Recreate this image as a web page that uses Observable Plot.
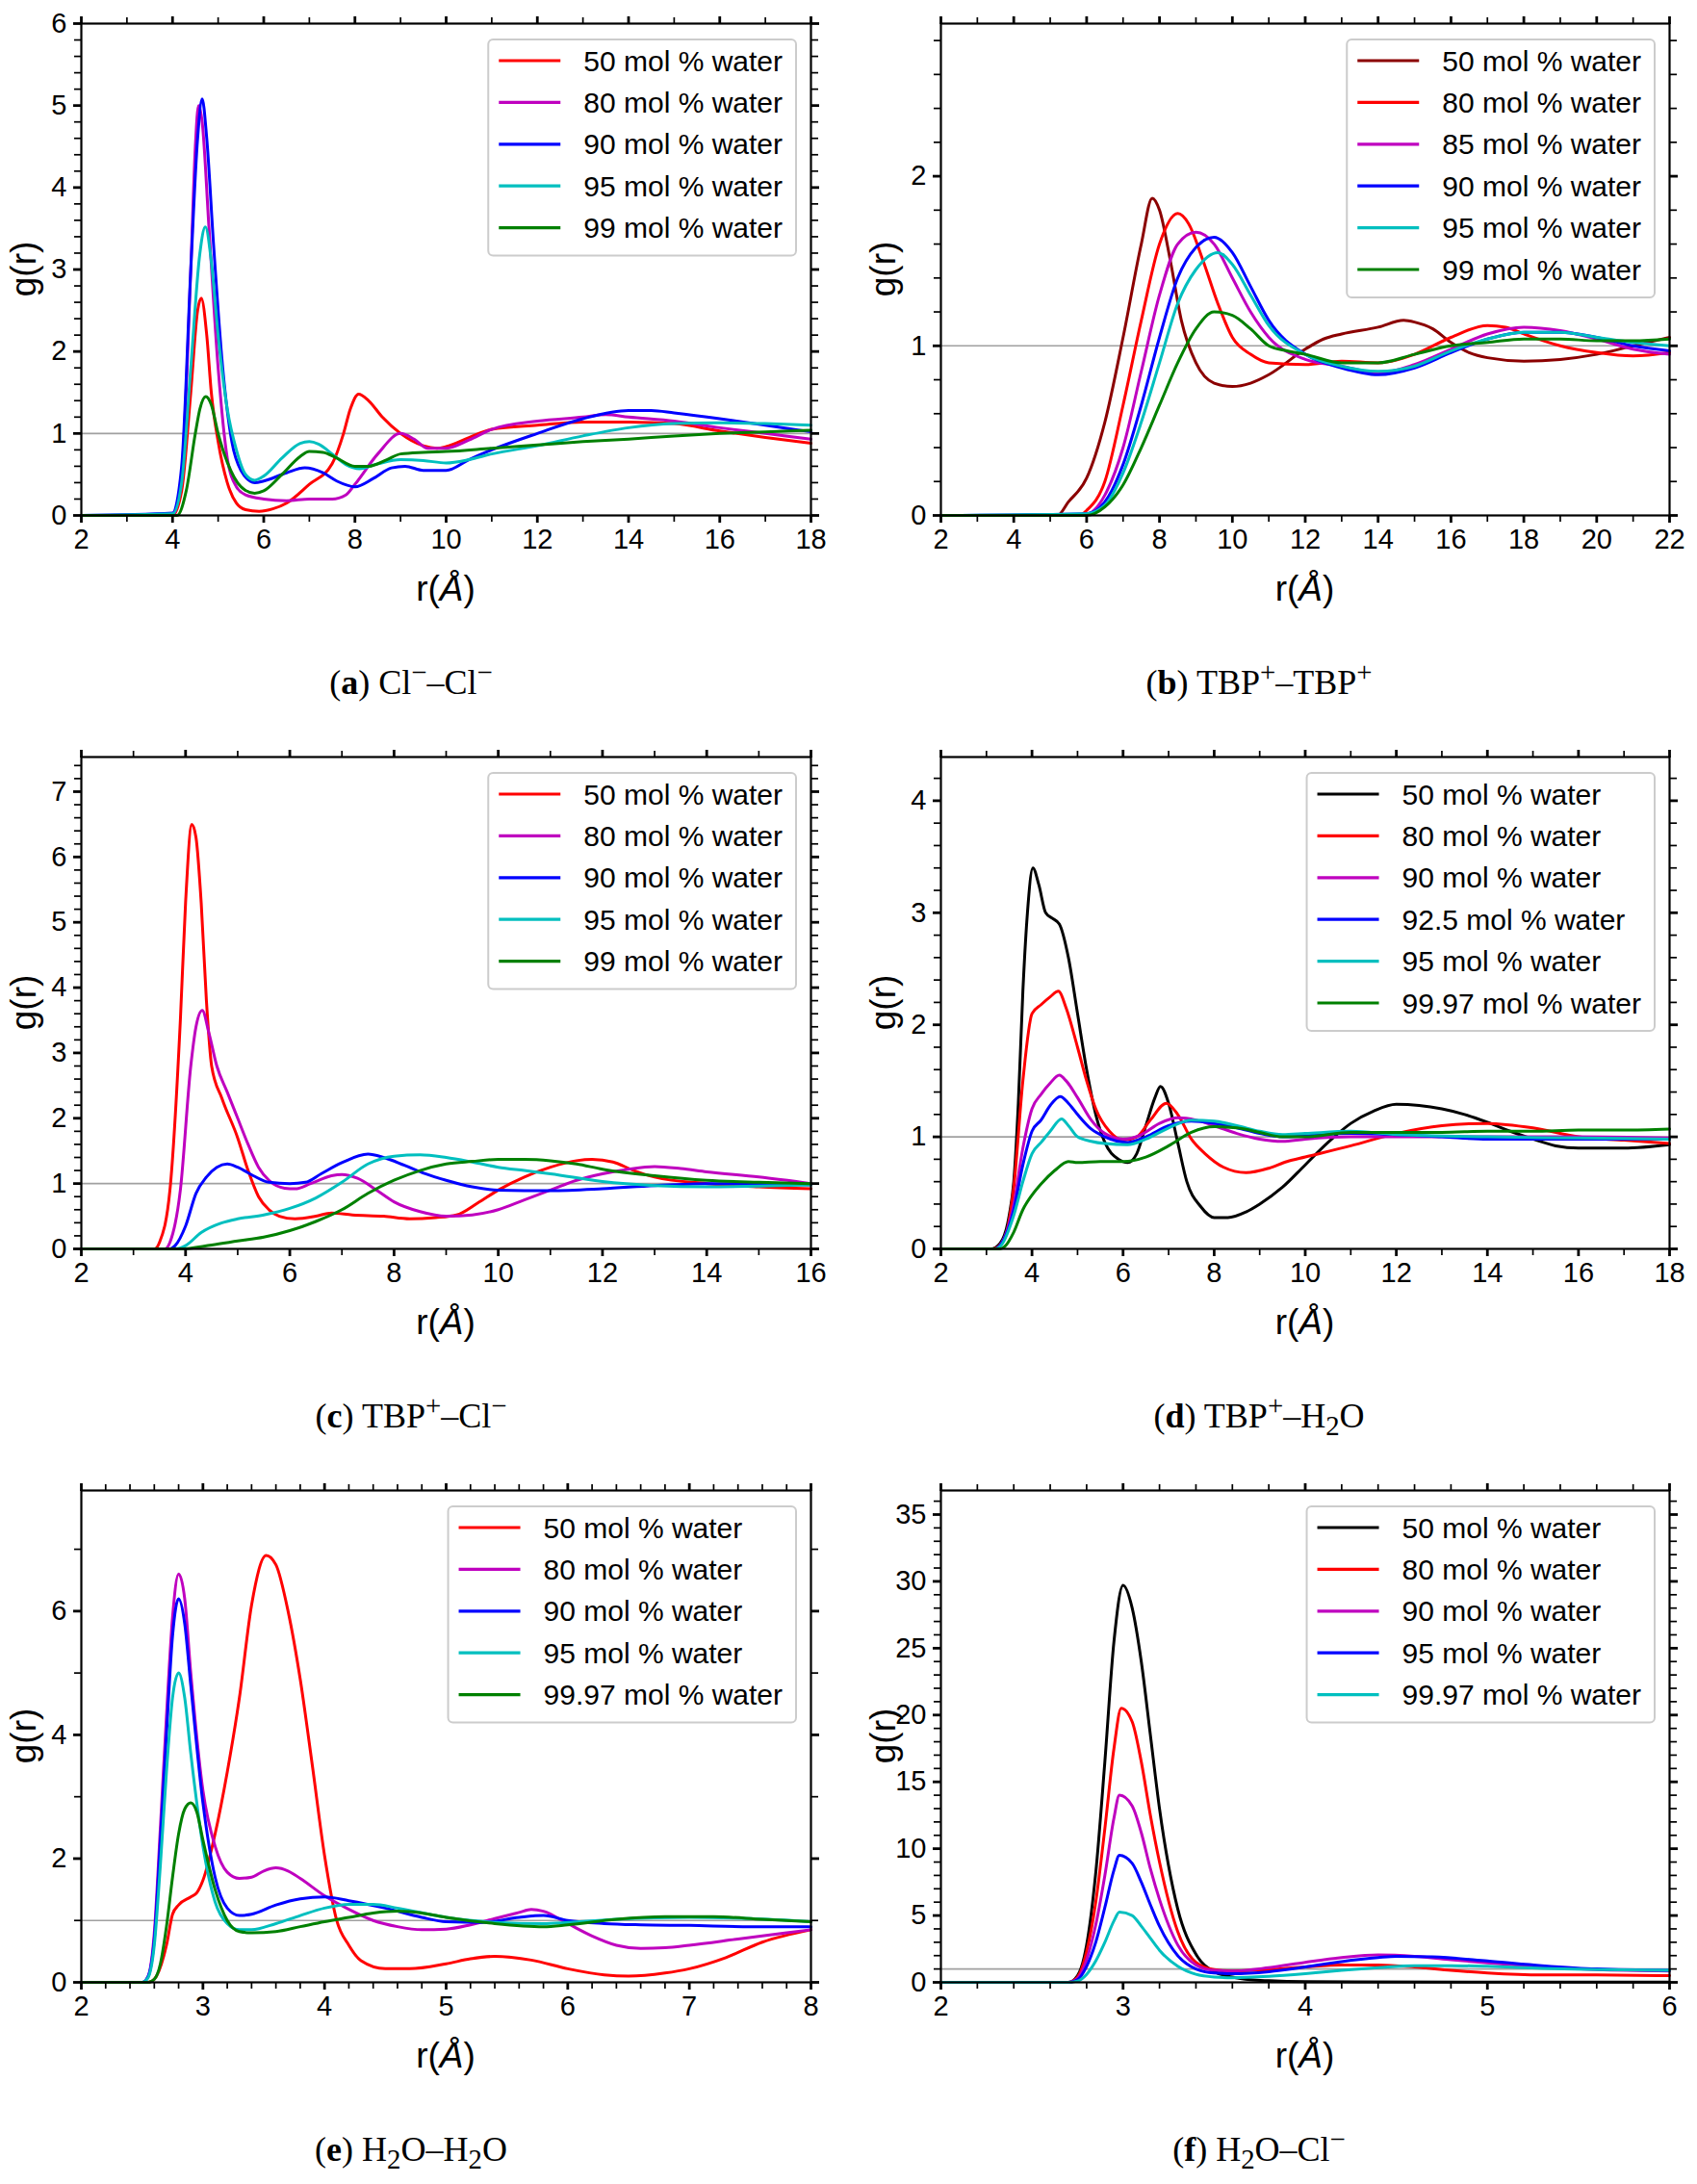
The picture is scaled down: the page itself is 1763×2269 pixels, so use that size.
<!DOCTYPE html>
<html>
<head>
<meta charset="utf-8">
<script src="https://cdn.jsdelivr.net/npm/d3@7"></script>
<script src="https://cdn.jsdelivr.net/npm/@observablehq/plot@0.6"></script>
<style>
  body { margin: 0; background: #fff; width: 1763px; }
  #grid { display: grid; grid-template-columns: 881px 882px; }
  .cell { height: 762px; position: relative; }
  .cap {
    font-family: "Liberation Serif", "DejaVu Serif", serif;
    font-size: 36px; line-height: 40px; text-align: center;
    width: 854px; margin-top: 49px; color: #000;
  }
  .cap sup, .cap sub { font-size: 0.8em; line-height: 0; }
</style>
</head>
<body>
<div id="grid"></div>
<script>
const FONT = "Liberation Sans, Arial, Helvetica, sans-serif";

// colours (matplotlib names)
const DARKRED = "#8b0000", RED = "#ff0000", MAGENTA = "#bf00bf",
      BLUE = "#0000ff", CYAN = "#00bfbf", GREEN = "#008000", BLACK = "#000000";

// (a) Cl- – Cl-
const clcl50 = [[2,0],[4.0,0],[4.2,0.3],[4.4,1.5],[4.55,2.5],[4.63,2.65],[4.75,2.2],[4.85,1.5],[5.0,0.9],[5.2,0.4],[5.4,0.15],[5.6,0.07],[5.9,0.05],[6.2,0.08],[6.5,0.15],[7.0,0.38],[7.5,0.63],[7.75,1.0],[7.9,1.3],[8.08,1.48],[8.3,1.4],[8.6,1.2],[9.0,1.0],[9.5,0.85],[9.8,0.82],[10,0.84],[10.5,0.95],[11,1.05],[12,1.1],[13,1.14],[14,1.14],[15,1.12],[16,1.03],[17,0.95],[18,0.88]];
const clcl80 = [[2,0],[4.0,0],[4.2,0.5],[4.4,3.0],[4.5,4.5],[4.57,5.0],[4.65,4.8],[4.8,3.5],[5.0,1.8],[5.2,0.7],[5.4,0.35],[5.6,0.25],[6,0.2],[6.5,0.18],[7,0.2],[7.5,0.2],[7.8,0.25],[8.0,0.38],[8.5,0.75],[9.0,1.0],[9.3,0.93],[9.6,0.82],[10,0.82],[10.5,0.92],[11,1.05],[12,1.15],[13,1.2],[13.5,1.23],[14,1.2],[15,1.15],[16,1.07],[17,1.0],[18,0.93]];
const clcl90 = [[2,0],[4.0,0.03],[4.2,0.6],[4.4,3.0],[4.55,4.6],[4.65,5.08],[4.75,4.6],[4.9,3.3],[5.1,1.8],[5.3,0.9],[5.5,0.55],[5.8,0.4],[6.0,0.42],[6.5,0.52],[6.9,0.58],[7.3,0.52],[7.6,0.42],[8.0,0.35],[8.4,0.45],[8.8,0.58],[9.1,0.6],[9.5,0.55],[10,0.55],[10.5,0.68],[11,0.8],[12,1.0],[13,1.18],[14,1.28],[14.5,1.28],[15,1.25],[16,1.18],[17,1.1],[18,1.02]];
const clcl95 = [[2,0],[4.0,0.02],[4.2,0.4],[4.4,1.8],[4.6,3.2],[4.72,3.52],[4.85,3.1],[5.0,2.2],[5.2,1.3],[5.4,0.8],[5.6,0.5],[5.8,0.43],[6.0,0.48],[6.4,0.7],[6.8,0.88],[7.0,0.9],[7.2,0.87],[7.5,0.75],[7.8,0.62],[8.1,0.57],[8.5,0.63],[9.0,0.68],[9.5,0.67],[10,0.64],[10.5,0.68],[11,0.75],[12,0.85],[13,0.97],[14,1.07],[15,1.12],[16,1.13],[17,1.12],[18,1.1]];
const clcl99 = [[2,0],[4.1,0],[4.3,0.3],[4.5,1.0],[4.6,1.3],[4.73,1.45],[4.85,1.35],[5.0,1.0],[5.2,0.65],[5.5,0.35],[5.8,0.27],[6.0,0.3],[6.4,0.5],[6.8,0.72],[7.0,0.78],[7.3,0.77],[7.6,0.7],[8.0,0.6],[8.3,0.6],[8.7,0.68],[9.0,0.75],[9.5,0.77],[10,0.78],[11,0.82],[12,0.86],[13,0.9],[14,0.93],[15,0.97],[16,1.0],[17,1.02],[18,1.04]];

// (b) TBP+ – TBP+
const tbp50 = [[2,0],[5.2,0],[5.5,0.08],[6.0,0.22],[6.5,0.55],[7.0,1.05],[7.5,1.6],[7.8,1.87],[8.0,1.8],[8.3,1.5],[8.6,1.15],[9.0,0.9],[9.5,0.78],[10,0.76],[10.5,0.78],[11,0.83],[12,0.98],[12.5,1.04],[13,1.07],[14,1.11],[14.7,1.15],[15,1.14],[15.5,1.1],[16,1.02],[16.5,0.96],[17,0.93],[18,0.91],[19,0.92],[20,0.95],[21,1.0],[22,1.05]];
const tbp80 = [[2,0],[5.8,0],[6.0,0.03],[6.5,0.2],[7.0,0.65],[7.5,1.15],[8.0,1.6],[8.5,1.78],[8.8,1.72],[9.2,1.5],[9.6,1.25],[10,1.05],[10.5,0.95],[11,0.9],[12,0.89],[13,0.91],[14,0.9],[15,0.95],[16,1.05],[17,1.12],[17.5,1.11],[18,1.07],[19,1.0],[20,0.96],[21,0.94],[22,0.96]];
const tbp85 = [[2,0],[5.9,0],[6.5,0.12],[7.0,0.4],[7.5,0.85],[8.0,1.3],[8.5,1.6],[9.0,1.67],[9.5,1.6],[10,1.4],[10.5,1.2],[11,1.05],[12,0.92],[13,0.88],[14,0.84],[15,0.89],[16,0.98],[17,1.07],[18,1.11],[19,1.09],[20,1.04],[21,0.98],[22,0.95]];
const tbp90 = [[2,0],[6.0,0.01],[6.5,0.08],[7.0,0.3],[7.5,0.65],[8.0,1.05],[8.5,1.4],[9.0,1.58],[9.5,1.64],[10,1.55],[10.5,1.35],[11,1.15],[12,0.95],[13,0.87],[14,0.83],[15,0.87],[16,0.96],[17,1.04],[18,1.08],[19,1.08],[20,1.05],[21,1.0],[22,0.97]];
const tbp95 = [[2,0],[6.0,0.01],[6.5,0.06],[7.0,0.25],[7.5,0.55],[8.0,0.9],[8.5,1.25],[9.0,1.45],[9.6,1.55],[10,1.48],[10.5,1.3],[11,1.12],[12,0.95],[13,0.88],[14,0.85],[15,0.88],[16,0.97],[17,1.04],[18,1.08],[19,1.08],[20,1.05],[21,1.02],[22,1.0]];
const tbp99 = [[2,0],[6.0,0],[6.5,0.05],[7.0,0.18],[7.5,0.4],[8.0,0.65],[8.5,0.9],[9.0,1.1],[9.5,1.2],[10,1.18],[10.5,1.1],[11,1.0],[11.5,0.97],[12,0.95],[13,0.9],[14,0.9],[15,0.95],[16,1.0],[17,1.02],[18,1.04],[19,1.04],[20,1.03],[21,1.03],[22,1.04]];

// (c) TBP+ – Cl-
const tc50 = [[2,0],[3.4,0],[3.5,0.1],[3.7,0.9],[3.9,3.5],[4.0,5.3],[4.12,6.5],[4.2,6.3],[4.3,5.3],[4.4,3.8],[4.5,2.8],[4.7,2.3],[5.0,1.7],[5.2,1.2],[5.4,0.8],[5.6,0.6],[5.8,0.5],[6.1,0.46],[6.5,0.5],[6.8,0.55],[7.2,0.52],[7.8,0.5],[8.3,0.46],[8.8,0.48],[9.2,0.52],[9.6,0.7],[10,0.9],[10.5,1.1],[11,1.25],[11.5,1.35],[11.8,1.37],[12.2,1.33],[12.6,1.2],[13,1.1],[14,1.0],[15,0.95],[16,0.92]];
const tc80 = [[2,0],[3.6,0],[3.7,0.1],[3.9,0.9],[4.1,2.8],[4.2,3.4],[4.32,3.65],[4.45,3.3],[4.6,2.8],[4.8,2.4],[5.0,2.0],[5.2,1.6],[5.4,1.25],[5.6,1.05],[5.9,0.93],[6.1,0.92],[6.4,1.0],[6.8,1.12],[7.0,1.14],[7.3,1.08],[7.7,0.88],[8.0,0.72],[8.5,0.57],[9.0,0.5],[9.5,0.52],[10,0.6],[10.5,0.75],[11,0.9],[11.5,1.05],[12,1.15],[12.5,1.22],[13,1.26],[13.5,1.23],[14,1.18],[15,1.1],[16,1.0]];
const tc90 = [[2,0],[3.7,0],[3.8,0.05],[4.0,0.35],[4.2,0.85],[4.4,1.1],[4.6,1.25],[4.8,1.3],[5.0,1.25],[5.3,1.12],[5.6,1.02],[6.0,1.0],[6.3,1.02],[6.6,1.15],[7.0,1.32],[7.5,1.45],[7.8,1.4],[8.2,1.28],[8.6,1.15],[9.0,1.05],[9.5,0.95],[10,0.9],[11,0.89],[12,0.92],[13,0.97],[14,1.0],[15,1.0],[16,0.98]];
const tc95 = [[2,0],[3.8,0],[4.0,0.05],[4.3,0.25],[4.7,0.4],[5.0,0.46],[5.5,0.52],[6.0,0.62],[6.5,0.78],[7.0,1.02],[7.5,1.3],[8.0,1.42],[8.5,1.44],[9.0,1.4],[9.5,1.33],[10,1.25],[10.5,1.2],[11,1.15],[12,1.03],[13,0.97],[14,0.95],[15,0.96],[16,0.98]];
const tc99 = [[2,0],[3.9,0],[4.5,0.06],[5.0,0.12],[5.5,0.18],[6.0,0.28],[6.5,0.42],[7.0,0.6],[7.5,0.85],[8.0,1.05],[8.5,1.2],[9.0,1.3],[9.5,1.34],[10,1.37],[10.5,1.37],[11,1.35],[11.5,1.3],[12,1.22],[13,1.12],[14,1.05],[15,1.02],[16,1.0]];

// (d) TBP+ – H2O
const tw50 = [[2,0],[3.1,0],[3.3,0.05],[3.5,0.3],[3.6,0.6],[3.7,1.3],[3.8,2.3],[3.9,3.0],[4.02,3.4],[4.15,3.25],[4.3,3.0],[4.45,2.95],[4.6,2.9],[4.8,2.6],[5.0,2.1],[5.2,1.6],[5.4,1.2],[5.6,0.95],[5.9,0.8],[6.1,0.77],[6.3,0.85],[6.5,1.1],[6.7,1.35],[6.82,1.45],[7.0,1.3],[7.2,0.95],[7.4,0.6],[7.7,0.38],[8.0,0.28],[8.3,0.28],[8.7,0.33],[9.0,0.4],[9.5,0.55],[10,0.75],[10.5,0.95],[11,1.12],[11.5,1.23],[12,1.29],[12.5,1.28],[13,1.25],[13.5,1.2],[14,1.13],[14.5,1.05],[15,0.98],[15.5,0.92],[16,0.9],[17,0.9],[18,0.93]];
const tw80 = [[2,0],[3.15,0],[3.4,0.1],[3.6,0.55],[3.8,1.5],[4.0,2.1],[4.2,2.18],[4.4,2.25],[4.58,2.3],[4.75,2.15],[5.0,1.8],[5.2,1.5],[5.4,1.25],[5.7,1.05],[6.0,0.97],[6.3,1.0],[6.6,1.15],[6.95,1.3],[7.2,1.2],[7.5,0.98],[7.8,0.85],[8.2,0.73],[8.7,0.68],[9.2,0.72],[9.6,0.78],[10,0.82],[11,0.92],[12,1.03],[13,1.1],[14,1.12],[15,1.08],[16,1.0],[17,0.97],[18,0.94]];
const tw90 = [[2,0],[3.2,0],[3.3,0.03],[3.6,0.4],[3.8,0.9],[4.0,1.25],[4.2,1.38],[4.4,1.48],[4.6,1.55],[4.75,1.5],[5.0,1.35],[5.3,1.15],[5.6,1.03],[6.0,0.98],[6.4,1.02],[6.8,1.12],[7.2,1.17],[7.6,1.15],[8.0,1.1],[8.5,1.03],[9.0,0.98],[9.5,0.96],[10,0.98],[11,1.0],[12,1.0],[14,1.0],[16,1.0],[18,0.99]];
const tw925 = [[2,0],[3.2,0],[3.3,0.03],[3.6,0.35],[3.8,0.75],[4.0,1.05],[4.2,1.15],[4.4,1.28],[4.62,1.36],[4.8,1.3],[5.0,1.2],[5.3,1.07],[5.6,1.0],[6.1,0.95],[6.5,1.0],[7.0,1.1],[7.5,1.14],[8.0,1.12],[8.5,1.08],[9.0,1.03],[9.5,1.0],[10,1.01],[11,1.03],[12,1.02],[13,1.0],[14,0.98],[16,0.98],[18,0.98]];
const tw95 = [[2,0],[3.2,0],[3.3,0.02],[3.6,0.3],[3.8,0.6],[4.0,0.85],[4.2,0.95],[4.4,1.05],[4.65,1.16],[4.8,1.1],[5.0,1.0],[5.3,0.96],[5.6,0.94],[6.1,0.93],[6.5,0.98],[7.0,1.08],[7.5,1.15],[8.0,1.14],[8.5,1.1],[9.0,1.05],[9.5,1.02],[10,1.03],[11,1.05],[12,1.02],[14,1.0],[16,0.99],[18,0.98]];
const tw9997 = [[2,0],[3.3,0],[3.4,0.02],[3.6,0.15],[3.8,0.35],[4.0,0.48],[4.2,0.58],[4.5,0.7],[4.8,0.78],[5.0,0.77],[5.5,0.78],[6.0,0.78],[6.5,0.82],[7.0,0.92],[7.5,1.04],[8.0,1.09],[8.5,1.08],[9.0,1.04],[9.5,1.0],[10,1.0],[11,1.04],[12,1.04],[13,1.04],[14,1.05],[15,1.05],[16,1.06],[17,1.06],[18,1.07]];

// (e) H2O – H2O
const ww50 = [[2,0],[2.55,0],[2.6,0.05],[2.7,0.6],[2.75,1.1],[2.8,1.25],[2.9,1.38],[2.95,1.45],[3.0,1.65],[3.1,2.4],[3.2,3.4],[3.3,4.6],[3.4,6.1],[3.52,6.9],[3.6,6.75],[3.7,6.0],[3.8,4.9],[3.9,3.5],[4.0,2.05],[4.1,1.0],[4.2,0.6],[4.3,0.35],[4.5,0.22],[4.7,0.22],[5.0,0.3],[5.2,0.38],[5.4,0.42],[5.7,0.36],[6.0,0.22],[6.3,0.12],[6.5,0.1],[6.8,0.15],[7.0,0.22],[7.3,0.4],[7.6,0.65],[8.0,0.85]];
const ww80 = [[2,0],[2.5,0],[2.55,0.1],[2.6,0.8],[2.65,2.5],[2.7,4.3],[2.75,5.9],[2.8,6.6],[2.85,6.2],[2.9,5.0],[3.0,3.1],[3.1,2.2],[3.2,1.78],[3.3,1.68],[3.4,1.7],[3.5,1.8],[3.6,1.85],[3.7,1.8],[3.8,1.68],[4.0,1.4],[4.2,1.18],[4.4,1.0],[4.6,0.9],[4.8,0.85],[5.0,0.86],[5.2,0.93],[5.4,1.03],[5.6,1.13],[5.7,1.18],[5.8,1.15],[6.0,0.95],[6.2,0.75],[6.4,0.6],[6.6,0.55],[6.8,0.56],[7.0,0.6],[7.4,0.7],[7.8,0.8],[8.0,0.85]];
const ww90 = [[2,0],[2.5,0],[2.55,0.1],[2.6,0.7],[2.65,2.3],[2.7,4.0],[2.75,5.6],[2.8,6.2],[2.85,5.8],[2.9,4.8],[3.0,2.9],[3.1,1.7],[3.2,1.2],[3.3,1.08],[3.4,1.1],[3.6,1.25],[3.8,1.35],[4.0,1.38],[4.2,1.32],[4.5,1.2],[4.8,1.05],[5.0,0.98],[5.3,0.97],[5.6,1.05],[5.8,1.08],[6.0,1.0],[6.3,0.95],[6.6,0.93],[7.0,0.92],[7.5,0.9],[8.0,0.9]];
const ww95 = [[2,0],[2.5,0],[2.55,0.08],[2.6,0.6],[2.65,1.9],[2.7,3.4],[2.75,4.6],[2.8,5.0],[2.85,4.6],[2.9,3.7],[3.0,2.2],[3.1,1.3],[3.2,0.95],[3.3,0.85],[3.4,0.85],[3.6,0.95],[3.8,1.08],[4.0,1.2],[4.2,1.26],[4.4,1.26],[4.6,1.2],[5.0,1.05],[5.4,0.97],[5.8,0.95],[6.0,0.97],[6.4,1.02],[7.0,1.05],[7.5,1.03],[8.0,0.98]];
const ww9997 = [[2,0],[2.55,0],[2.6,0.05],[2.65,0.3],[2.7,0.9],[2.75,1.7],[2.8,2.4],[2.85,2.8],[2.9,2.9],[2.95,2.75],[3.0,2.3],[3.1,1.5],[3.2,1.0],[3.3,0.82],[3.4,0.8],[3.6,0.82],[3.8,0.9],[4.0,0.98],[4.2,1.05],[4.4,1.12],[4.6,1.15],[4.8,1.12],[5.0,1.05],[5.4,0.95],[5.8,0.9],[6.0,0.93],[6.4,1.02],[6.8,1.06],[7.2,1.06],[7.6,1.02],[8.0,0.98]];

// (f) H2O – Cl-
const wc50 = [[2,0],[2.7,0],[2.75,0.5],[2.8,2.8],[2.85,8.2],[2.9,16.5],[2.95,25.5],[3.0,29.7],[3.05,28],[3.1,24],[3.15,18.5],[3.2,13],[3.3,5.5],[3.4,2.1],[3.5,0.8],[3.6,0.4],[3.7,0.2],[3.8,0.12],[4.0,0.05],[5.0,0.02],[6.0,0.02]];
const wc80 = [[2,0],[2.7,0],[2.75,0.4],[2.8,2.3],[2.85,6],[2.9,11.5],[2.95,17.5],[2.99,20.5],[3.05,19.5],[3.1,16.5],[3.15,12.5],[3.2,9],[3.3,3.8],[3.4,1.5],[3.5,0.95],[3.6,0.85],[3.8,0.95],[4.0,1.15],[4.2,1.3],[4.4,1.3],[4.6,1.15],[4.8,0.9],[5.0,0.7],[5.3,0.55],[5.6,0.55],[6.0,0.5]];
const wc90 = [[2,0],[2.7,0],[2.75,0.3],[2.8,1.7],[2.85,4.3],[2.9,8.0],[2.95,12.3],[2.98,14],[3.05,13.2],[3.1,11.2],[3.15,8.5],[3.2,6.2],[3.3,2.8],[3.4,1.3],[3.5,0.9],[3.6,0.85],[3.8,1.1],[4.0,1.5],[4.2,1.85],[4.4,2.05],[4.6,1.95],[4.8,1.7],[5.0,1.45],[5.3,1.15],[5.6,0.95],[6.0,0.85]];
const wc95 = [[2,0],[2.7,0],[2.75,0.2],[2.8,1.2],[2.85,3.0],[2.9,5.6],[2.95,8.4],[2.98,9.5],[3.05,8.9],[3.1,7.5],[3.15,5.8],[3.2,4.2],[3.3,2.0],[3.4,1.0],[3.5,0.7],[3.6,0.65],[3.8,0.8],[4.0,1.15],[4.2,1.55],[4.4,1.85],[4.5,1.95],[4.7,1.9],[5.0,1.6],[5.3,1.25],[5.6,1.0],[6.0,0.9]];
const wc9997 = [[2,0],[2.7,0],[2.75,0.1],[2.8,0.6],[2.85,1.6],[2.9,3.0],[2.95,4.6],[2.98,5.25],[3.05,5.0],[3.1,4.2],[3.15,3.3],[3.2,2.4],[3.3,1.2],[3.4,0.6],[3.5,0.4],[3.6,0.35],[3.8,0.45],[4.0,0.65],[4.2,0.9],[4.4,1.1],[4.6,1.25],[4.8,1.25],[5.0,1.2],[5.3,1.05],[5.6,0.95],[6.0,0.9]];

// tick labels
const ticks2to18 = [2,4,6,8,10,12,14,16,18];
const ticks2to22 = [2,4,6,8,10,12,14,16,18,20,22];
const ticks2to16 = [2,4,6,8,10,12,14,16];
const ticks2to8 = [2,3,4,5,6,7,8];
const ticks2to6 = [2,3,4,5,6];
const yTicksA = [0,1,2,3,4,5,6];
const yTicksB = [0,1,2];
const yTicksC = [0,1,2,3,4,5,6,7];
const yTicksD = [0,1,2,3,4];
const yTicksE = [0,2,4,6];
const yTicksF = [0,5,10,15,20,25,30,35];

const panels = [
  {caption: "(<b>a</b>) Cl<sup>−</sup>–Cl<sup>−</sup>", x: [2,18], y: [0,6],
   xt: ticks2to18, xm: 1, yt: yTicksA, ym: 0.2,
   series: [["50 mol % water", RED, clcl50], ["80 mol % water", MAGENTA, clcl80], ["90 mol % water", BLUE, clcl90],
            ["95 mol % water", CYAN, clcl95], ["99 mol % water", GREEN, clcl99]]},
  {caption: "(<b>b</b>) TBP<sup>+</sup>–TBP<sup>+</sup>", x: [2,22], y: [0,2.9],
   xt: ticks2to22, xm: 1, yt: yTicksB, ym: 0.2,
   series: [["50 mol % water", DARKRED, tbp50], ["80 mol % water", RED, tbp80], ["85 mol % water", MAGENTA, tbp85],
            ["90 mol % water", BLUE, tbp90], ["95 mol % water", CYAN, tbp95], ["99 mol % water", GREEN, tbp99]]},
  {caption: "(<b>c</b>) TBP<sup>+</sup>–Cl<sup>−</sup>", x: [2,16], y: [0,7.53],
   xt: ticks2to16, xm: 1, yt: yTicksC, ym: 0.2,
   series: [["50 mol % water", RED, tc50], ["80 mol % water", MAGENTA, tc80], ["90 mol % water", BLUE, tc90],
            ["95 mol % water", CYAN, tc95], ["99 mol % water", GREEN, tc99]]},
  {caption: "(<b>d</b>) TBP<sup>+</sup>–H<sub>2</sub>O", x: [2,18], y: [0,4.39],
   xt: ticks2to18, xm: 1, yt: yTicksD, ym: 0.2,
   series: [["50 mol % water", BLACK, tw50], ["80 mol % water", RED, tw80], ["90 mol % water", MAGENTA, tw90],
            ["92.5 mol % water", BLUE, tw925], ["95 mol % water", CYAN, tw95], ["99.97 mol % water", GREEN, tw9997]]},
  {caption: "(<b>e</b>) H<sub>2</sub>O–H<sub>2</sub>O", x: [2,8], y: [0,7.95],
   xt: ticks2to8, xm: 0.2, yt: yTicksE, ym: 1,
   series: [["50 mol % water", RED, ww50], ["80 mol % water", MAGENTA, ww80], ["90 mol % water", BLUE, ww90],
            ["95 mol % water", CYAN, ww95], ["99.97 mol % water", GREEN, ww9997]]},
  {caption: "(<b>f</b>) H<sub>2</sub>O–Cl<sup>−</sup>", x: [2,6], y: [0,36.8],
   xt: ticks2to6, xm: 0.2, yt: yTicksF, ym: 1,
   series: [["50 mol % water", BLACK, wc50], ["80 mol % water", RED, wc80], ["90 mol % water", MAGENTA, wc90],
            ["95 mol % water", BLUE, wc95], ["99.97 mol % water", CYAN, wc9997]]}
];

// minor tick positions between the labelled ones
function minor([lo, hi], step, major) {
  const n = Math.floor((hi - lo) / step + 1e-6);
  return d3.range(n + 1).map(i => +(lo + i * step).toFixed(4))
    .filter(v => !major.some(m => Math.abs(m - v) < 1e-6));
}

const grid = d3.select("#grid");

panels.forEach((p, i) => {
  const right = i % 2 === 1;
  const width = right ? 882 : 881;
  const ml = right ? 96 : 84, mr = right ? 29 : 39, mt = 24, mb = 105, height = 640;
  const xMinor = minor(p.x, p.xm, p.xt), yMinor = minor(p.y, p.ym, p.yt);
  const none = () => "";
  const plain = d => String(d);

  const chart = Plot.plot({
    width, height,
    marginLeft: ml, marginRight: mr, marginTop: mt, marginBottom: mb,
    style: {fontFamily: FONT, fontSize: "29px", color: "#000", background: "#fff", overflow: "visible"},
    x: {domain: p.x},
    y: {domain: p.y},
    marks: [
      Plot.ruleY([1], {stroke: "#a0a0a0", strokeWidth: 1.6}),
      ...p.series.map(([label, color, data]) =>
        Plot.line(data, {x: d => d[0], y: d => d[1], stroke: color, strokeWidth: 3, curve: "monotone-x"})),
      Plot.frame({stroke: "#000", strokeWidth: 2.2}),
      Plot.axisX(p.xt, {anchor: "bottom", tickSize: 8, tickPadding: 6, strokeWidth: 2.8, tickFormat: plain, label: null}),
      Plot.axisX(xMinor, {anchor: "bottom", tickSize: 7, strokeWidth: 1.7, tickFormat: none, label: null}),
      Plot.axisX(p.xt, {anchor: "top", tickSize: 8, strokeWidth: 2.8, tickFormat: none, label: null}),
      Plot.axisX(xMinor, {anchor: "top", tickSize: 7, strokeWidth: 1.7, tickFormat: none, label: null}),
      Plot.axisY(p.yt, {anchor: "left", tickSize: 8, tickPadding: 7, strokeWidth: 2.8, tickFormat: plain, label: null}),
      Plot.axisY(yMinor, {anchor: "left", tickSize: 7, strokeWidth: 1.7, tickFormat: none, label: null}),
      Plot.axisY(p.yt, {anchor: "right", tickSize: 8, strokeWidth: 2.8, tickFormat: none, label: null}),
      Plot.axisY(yMinor, {anchor: "right", tickSize: 7, strokeWidth: 1.7, tickFormat: none, label: null})
    ]
  });

  const cell = grid.append("div").attr("class", "cell");
  cell.node().appendChild(chart);
  cell.append("div").attr("class", "cap").html(p.caption);

  const svg = d3.select(chart);
  // tick labels: force the figure's size directly on every text Plot drew
  svg.selectAll("text").style("font-size", "29px").style("font-family", FONT);

  const fRight = width - mr, fTop = mt, fBottom = height - mb;

  // axis titles
  svg.append("text")
    .attr("transform", `translate(${ml - 60},${(fTop + fBottom) / 2}) rotate(-90)`)
    .attr("text-anchor", "middle").attr("dominant-baseline", "central")
    .attr("font-family", FONT).style("font-size", "37px").attr("fill", "#000")
    .text("g(r)");
  const xl = svg.append("text")
    .attr("x", (ml + fRight) / 2).attr("y", 611)
    .attr("text-anchor", "middle").attr("dominant-baseline", "central")
    .attr("font-family", FONT).style("font-size", "37px").attr("fill", "#000");
  xl.append("tspan").text("r(");
  xl.append("tspan").attr("font-style", "italic").text("Å");
  xl.append("tspan").text(")");

  // legend box
  const n = p.series.length, rowH = 43.4;
  const lg = svg.append("g").attr("font-family", FONT).style("font-size", "30px");
  const box = lg.append("rect");
  const texts = p.series.map(([label]) =>
    lg.append("text").attr("text-anchor", "start").attr("dominant-baseline", "central")
      .attr("fill", "#000").text(label));
  const tw = d3.max(texts, t => t.node().getComputedTextLength());
  const w = 99 + tw + 14, h = 22 + (n - 1) * rowH + 29;
  const x0 = fRight - 15 - w, y0 = fTop + 17;
  box.attr("x", x0).attr("y", y0).attr("width", w).attr("height", h).attr("rx", 5)
    .attr("fill", "#fff").attr("fill-opacity", 0.8).attr("stroke", "#cccccc").attr("stroke-width", 2);
  p.series.forEach(([label, color], k) => {
    const cy = y0 + 22 + k * rowH;
    lg.append("line").attr("x1", x0 + 11).attr("x2", x0 + 75).attr("y1", cy).attr("y2", cy)
      .attr("stroke", color).attr("stroke-width", 3.2);
    texts[k].attr("x", x0 + 99).attr("y", cy);
  });
});
</script>
</body>
</html>
